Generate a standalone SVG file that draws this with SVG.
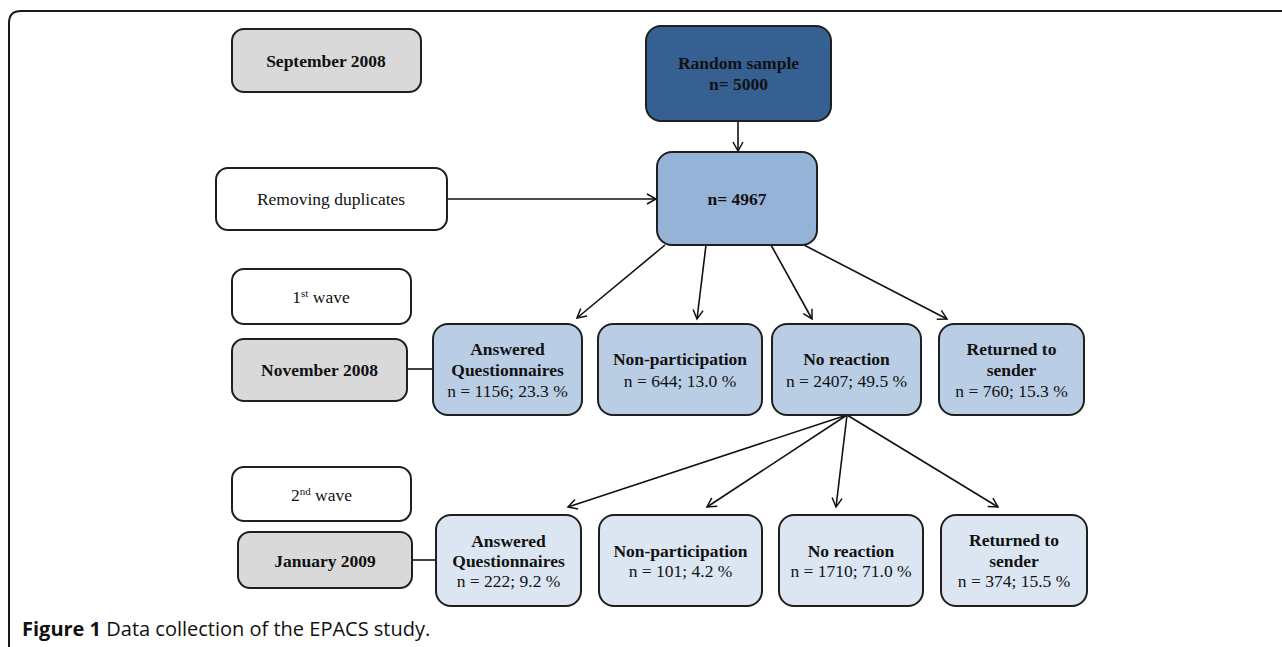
<svg xmlns="http://www.w3.org/2000/svg" width="1282" height="647" viewBox="0 0 1282 647">
<defs>
<marker id="ah" markerWidth="12" markerHeight="12" refX="10" refY="6" orient="auto" markerUnits="userSpaceOnUse">
<path d="M1,1 L10,6 L1,11" fill="none" stroke="#111" stroke-width="1.5"/>
</marker>
<style>
.box{stroke:#1f1f1f;stroke-width:2}
.gray{fill:#d9d9d9}
.white{fill:#ffffff}
.dark{fill:#376092}
.mid{fill:#95b3d7}
.r1{fill:#b9cde5}
.r2{fill:#dce6f2}
text{font-family:"Liberation Serif","Times New Roman",serif;font-size:17.5px;fill:#111;text-anchor:middle}
.b{font-weight:bold}
.sup{font-size:11px}
.cap{font-family:"Open Sans","Liberation Sans",Arial,sans-serif;font-size:20px;text-anchor:start}
.ln{stroke:#111;stroke-width:1.6;fill:none}
</style>
</defs>
<rect width="1282" height="647" fill="#ffffff"/>
<path d="M9,647 V23 Q9,11 21,11 H1282" fill="none" stroke="#1a1a1a" stroke-width="2"/>

<g id="connectors">
<line class="ln" x1="738" y1="121" x2="738" y2="151" marker-end="url(#ah)"/>
<line class="ln" x1="447" y1="199" x2="656" y2="199" marker-end="url(#ah)"/>
<line class="ln" x1="665" y1="245" x2="577" y2="318" marker-end="url(#ah)"/>
<line class="ln" x1="706" y1="245" x2="697" y2="319" marker-end="url(#ah)"/>
<line class="ln" x1="771" y1="245" x2="812" y2="319" marker-end="url(#ah)"/>
<line class="ln" x1="804" y1="245" x2="947" y2="319" marker-end="url(#ah)"/>
<line class="ln" x1="847" y1="415" x2="568" y2="507" marker-end="url(#ah)"/>
<line class="ln" x1="847" y1="415" x2="707" y2="507" marker-end="url(#ah)"/>
<line class="ln" x1="847" y1="415" x2="836" y2="507" marker-end="url(#ah)"/>
<line class="ln" x1="847" y1="415" x2="998" y2="507" marker-end="url(#ah)"/>
<line class="ln" x1="407" y1="369" x2="433" y2="369"/>
<line class="ln" x1="412" y1="560" x2="436" y2="560"/>
</g>

<g id="sep2008">
<rect class="box gray" x="232" y="29" width="189" height="63" rx="12"/>
<text class="b" x="326" y="67">September 2008</text>
</g>
<g id="random">
<rect class="box dark" x="646" y="26" width="185" height="95" rx="15"/>
<text class="b" x="738.5" y="69">Random sample</text>
<text class="b" x="738.5" y="90">n= 5000</text>
</g>
<g id="dups">
<rect class="box white" x="216" y="168" width="231" height="62" rx="12"/>
<text x="331" y="205">Removing duplicates</text>
</g>
<g id="n4967">
<rect class="box mid" x="657" y="152" width="160" height="93" rx="15"/>
<text class="b" x="737" y="205">n= 4967</text>
</g>
<g id="wave1">
<rect class="box white" x="232" y="269" width="179" height="55" rx="12"/>
<text x="321" y="303">1<tspan class="sup" dy="-6">st</tspan><tspan dy="6"> wave</tspan></text>
</g>
<g id="nov2008">
<rect class="box gray" x="232" y="339" width="175" height="62" rx="12"/>
<text class="b" x="319.5" y="376">November 2008</text>
</g>
<g id="ans1">
<rect class="box r1" x="433" y="324" width="149" height="91" rx="15"/>
<text class="b" x="507.5" y="355">Answered</text>
<text class="b" x="507.5" y="376">Questionnaires</text>
<text x="507.5" y="397">n = 1156; 23.3 %</text>
</g>
<g id="nonp1">
<rect class="box r1" x="598" y="324" width="164" height="91" rx="15"/>
<text class="b" x="680" y="365">Non-participation</text>
<text x="680" y="387">n = 644; 13.0 %</text>
</g>
<g id="noreac1">
<rect class="box r1" x="772" y="324" width="149" height="91" rx="15"/>
<text class="b" x="846.5" y="365">No reaction</text>
<text x="846.5" y="387">n = 2407; 49.5 %</text>
</g>
<g id="ret1">
<rect class="box r1" x="939" y="324" width="145" height="91" rx="15"/>
<text class="b" x="1011.5" y="355">Returned to</text>
<text class="b" x="1011.5" y="376">sender</text>
<text x="1011.5" y="397">n = 760; 15.3 %</text>
</g>
<g id="wave2">
<rect class="box white" x="232" y="467" width="179" height="54" rx="12"/>
<text x="321.5" y="501">2<tspan class="sup" dy="-6">nd</tspan><tspan dy="6"> wave</tspan></text>
</g>
<g id="jan2009">
<rect class="box gray" x="238" y="532" width="174" height="56" rx="12"/>
<text class="b" x="325" y="567">January 2009</text>
</g>
<g id="ans2">
<rect class="box r2" x="436" y="515" width="145" height="91" rx="15"/>
<text class="b" x="508.5" y="547">Answered</text>
<text class="b" x="508.5" y="567">Questionnaires</text>
<text x="508.5" y="587">n = 222; 9.2 %</text>
</g>
<g id="nonp2">
<rect class="box r2" x="599" y="515" width="163" height="91" rx="15"/>
<text class="b" x="680.5" y="557">Non-participation</text>
<text x="680.5" y="577">n = 101; 4.2 %</text>
</g>
<g id="noreac2">
<rect class="box r2" x="779" y="515" width="144" height="91" rx="15"/>
<text class="b" x="851" y="557">No reaction</text>
<text x="851" y="577">n = 1710; 71.0 %</text>
</g>
<g id="ret2">
<rect class="box r2" x="941" y="515" width="146" height="91" rx="15"/>
<text class="b" x="1014" y="546">Returned to</text>
<text class="b" x="1014" y="567">sender</text>
<text x="1014" y="587">n = 374; 15.5 %</text>
</g>

<text class="cap" x="22" y="636"><tspan font-weight="bold">Figure 1</tspan> Data collection of the EPACS study.</text>
</svg>
